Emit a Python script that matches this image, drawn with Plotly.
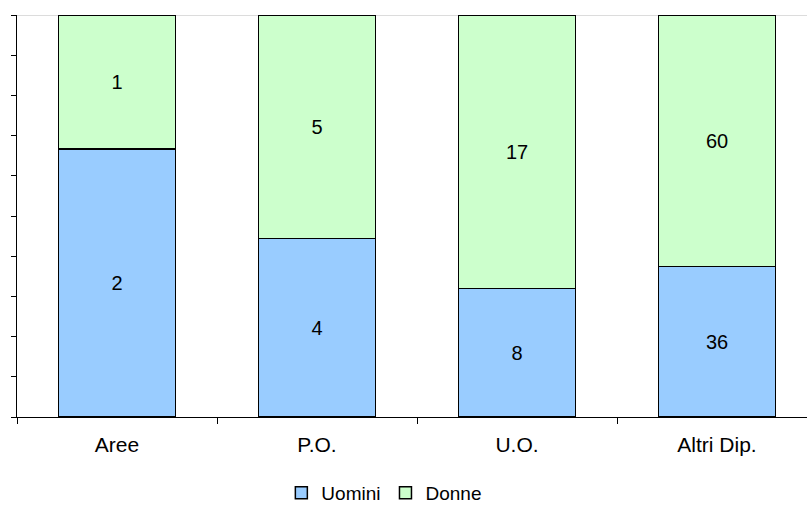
import plotly.graph_objects as go

categories = ["Aree", "P.O.", "U.O.", "Altri Dip."]
uomini = [2, 4, 8, 36]
donne = [1, 5, 17, 60]

xpos = list(range(len(categories)))
FONT = "Liberation Sans, Arial, sans-serif"

fig = go.Figure()
fig.add_trace(go.Bar(
    x=xpos, y=uomini, name="Uomini",
    marker=dict(color="#99CCFF", line=dict(color="#000000", width=1.5)),
    text=[str(v) for v in uomini], textposition="inside",
    insidetextanchor="middle", textfont=dict(color="#000000", size=20, family=FONT),
    width=0.585,
))
fig.add_trace(go.Bar(
    x=xpos, y=donne, name="Donne",
    marker=dict(color="#CCFFCC", line=dict(color="#000000", width=1.5)),
    text=[str(v) for v in donne], textposition="inside",
    insidetextanchor="middle", textfont=dict(color="#000000", size=20, family=FONT),
    width=0.585,
))

fig.update_layout(
    width=807, height=506,
    margin=dict(l=17, r=0, t=15, b=89, autoexpand=False),
    barmode="stack", barnorm="percent",
    plot_bgcolor="white", paper_bgcolor="white",
    font=dict(family=FONT, size=20, color="#000000"),
    uniformtext=dict(mode="show", minsize=20),
    showlegend=True,
    legend=dict(orientation="h", x=0.465, xanchor="center", y=-0.189, yanchor="middle",
                font=dict(size=19, family=FONT), traceorder="normal",
                itemwidth=30, tracegroupgap=0),
    xaxis=dict(
        range=[-0.5, 3.45], tickmode="array", tickvals=xpos, ticktext=categories,
        ticks="", showgrid=False, zeroline=False, automargin=False,
        showline=True, linecolor="#000000", linewidth=1,
        tickfont=dict(size=21, family=FONT), ticklabelstandoff=9,
        minor=dict(tickmode="array", tickvals=[-0.5, 0.5, 1.5, 2.5], ticks="outside",
                   ticklen=6, tickcolor="#000000", tickwidth=1, showgrid=False),
    ),
    yaxis=dict(
        range=[0, 100], tickmode="linear", tick0=0, dtick=10, automargin=False,
        ticks="outside", ticklen=5, tickcolor="#000000", showticklabels=False,
        showgrid=False, zeroline=False, showline=True, linecolor="#000000", linewidth=1,
    ),
    shapes=[dict(type="line", xref="paper", yref="y", x0=0, x1=1, y0=100, y1=100,
                 line=dict(color="#D0D0D0", width=1.5), layer="below")],
)

fig.write_html("out.html")
